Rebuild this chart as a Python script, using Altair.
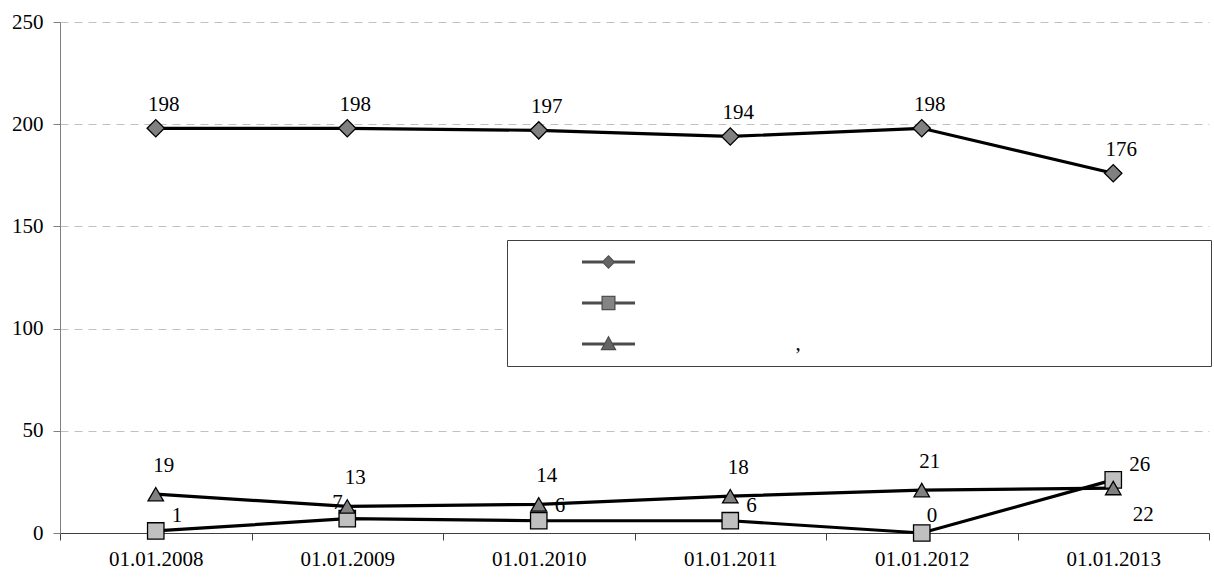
import altair as alt
import pandas as pd

# Categories and series values
dates = ["01.01.2008", "01.01.2009", "01.01.2010", "01.01.2011", "01.01.2012", "01.01.2013"]
series_names = ["Ряд 1", "Ряд 2", "Ряд 3"]
marker_kinds = ["diamond", "square", "triangle"]
series_1 = [198, 198, 197, 194, 198, 176]
series_2 = [1, 7, 6, 6, 0, 26]
series_3 = [19, 13, 14, 18, 21, 22]
y_ticks = [0, 50, 100, 150, 200, 250]
legend_labels = ["\u00a0", "\u00a0", ","]

rows = []
for name, kind, vals in zip(series_names, marker_kinds, [series_1, series_2, series_3]):
    for d, v in zip(dates, vals):
        rows.append({"date": d, "series": name, "kind": kind, "value": v})
df = pd.DataFrame(rows)

FONT = "Liberation Serif, Times New Roman, DejaVu Serif, serif"
FS = 21

fills = ["#808080", "#c0c0c0", "#808080"]

# Legend symbols in unit coordinates (1 unit = 6px at symbolSize 144).
# Dark silhouettes: line segment plus the marker outline.
legend_outlines = [
    "M-4.42,-0.25L-0.9,-0.25L0,-1.15L0.9,-0.25L4.42,-0.25L4.42,0.25L0.9,0.25L0,1.15L-0.9,0.25L-4.42,0.25Z",
    "M-4.42,-0.25L-1.17,-0.25L-1.17,-1.22L1.17,-1.22L1.17,-0.25L4.42,-0.25L4.42,0.25L1.17,0.25"
    "L1.17,1.22L-1.17,1.22L-1.17,0.25L-4.42,0.25Z",
    "M-4.42,-0.25L-0.634,-0.25L0,-1.4L0.634,-0.25L4.42,-0.25L4.42,0.25L0.909,0.25L1.35,1.05"
    "L-1.35,1.05L-0.909,0.25L-4.42,0.25Z",
]
# Grey marker bodies drawn on top of the silhouettes.
legend_bodies = [
    "M0,-0.9L0.9,0L0,0.9L-0.9,0Z",
    "M-0.97,-1.02L0.97,-1.02L0.97,1.02L-0.97,1.02Z",
    "M0,-1.05L1,0.85L-1,0.85Z",
]


def label_expr(keys):
    return (
        f"datum.label == '{keys[0]}' ? '{legend_labels[0]}' : "
        f"datum.label == '{keys[1]}' ? '{legend_labels[1]}' : '{legend_labels[2]}'"
    )


x_enc = alt.X(
    "date:N",
    sort=dates,
    scale=alt.Scale(type="band", paddingInner=0, paddingOuter=0),
    axis=alt.Axis(
        title=None,
        labelAngle=0,
        tickBand="extent",
        tickSize=7,
        tickColor="#404040",
        domainColor="#404040",
        labelFont=FONT,
        labelFontSize=FS,
        labelColor="black",
        labelPadding=8,
        grid=False,
    ),
)
y_enc = alt.Y(
    "value:Q",
    scale=alt.Scale(domain=[0, 250], nice=False),
    axis=alt.Axis(
        title=None,
        values=y_ticks,
        tickSize=7,
        tickColor="#808080",
        domainColor="#808080",
        labelFont=FONT,
        labelFontSize=FS,
        labelColor="black",
        labelPadding=10,
        grid=True,
        gridColor="#c0c0c0",
        gridDash=[8, 6],
        gridWidth=1,
    ),
)

base = alt.Chart(df)

lines = base.mark_line(color="black", strokeWidth=3.2).encode(
    x=x_enc, y=y_enc, detail="series:N"
)

markers = base.mark_point(filled=True, stroke="black", strokeWidth=1.3, opacity=1).encode(
    x=x_enc,
    y=y_enc,
    shape=alt.Shape(
        "series:N",
        scale=alt.Scale(domain=series_names, range=["diamond", "square", "triangle-up"]),
        legend=None,
    ),
    size=alt.Size("series:N", scale=alt.Scale(domain=series_names, range=[300, 240, 340]), legend=None),
    fill=alt.Fill("series:N", scale=alt.Scale(domain=series_names, range=fills), legend=None),
)

common_legend = dict(
    orient="none",
    legendX=447,
    legendY=218,
    padding=11.5,
    symbolOffset=79.5,
    symbolSize=144,
    symbolStrokeWidth=0,
    labelOffset=176.5,
    labelFont=FONT,
    labelFontSize=FS,
    labelColor="black",
    rowPadding=19,
)

# Framed legend with the dark line-and-outline symbols
legend_frame = base.mark_point(filled=True, color="black", strokeWidth=0).encode(
    x=x_enc,
    y=y_enc,
    shape=alt.Shape(
        "series:N",
        scale=alt.Scale(domain=series_names, range=legend_outlines),
        legend=alt.Legend(
            **common_legend,
            title="\u00a0",
            titleOrient="right",
            titlePadding=399,
            titleFontSize=FS,
            titleFont=FONT,
            strokeColor="#404040",
            fillColor="white",
            symbolFillColor="black",
            labelExpr=label_expr(series_names),
        ),
    ),
).transform_filter(alt.datum.value < 0)

# Second legend at the same spot adding the grey marker bodies
body_legend = dict(**common_legend, title=None, labelOpacity=0, labelExpr=label_expr(marker_kinds))
legend_fill = base.mark_point(filled=True, strokeWidth=0).encode(
    x=x_enc,
    y=y_enc,
    shape=alt.Shape(
        "kind:N",
        scale=alt.Scale(domain=marker_kinds, range=legend_bodies),
        legend=alt.Legend(**body_legend),
    ),
    fill=alt.Fill(
        "kind:N",
        scale=alt.Scale(domain=marker_kinds, range=fills),
        legend=alt.Legend(**body_legend),
    ),
).transform_filter(alt.datum.value < 0)


def value_labels(cond, **offsets):
    return base.mark_text(font=FONT, fontSize=FS, color="black", baseline="middle", **offsets).encode(
        x=x_enc, y=y_enc, text="value:Q"
    ).transform_filter(cond)


s1, s2, s3 = series_names
d = alt.datum

labels_1 = value_labels(d.series == s1, dx=8, dy=-23)
labels_3a = value_labels((d.series == s3) & (d.date != dates[-1]), dx=8, dy=-28)
labels_3b = value_labels((d.series == s3) & (d.date == dates[-1]), dx=30, dy=27)
labels_2a = value_labels(
    (d.series == s2) & (d.date != dates[1]) & (d.date != dates[4]), align="left", dx=16, dy=-15
)
labels_2b = value_labels((d.series == s2) & (d.date == dates[1]), align="left", dx=-15, dy=-16)
labels_2c = value_labels((d.series == s2) & (d.date == dates[4]), align="left", dx=5, dy=-17)

chart = (
    alt.layer(
        lines, markers, legend_frame, legend_fill,
        labels_1, labels_3a, labels_3b, labels_2a, labels_2b, labels_2c,
    )
    .resolve_scale(shape="independent", size="independent", fill="independent")
    .properties(
        width=1149,
        height=511,
        autosize=alt.AutoSizeParams(type="none"),
        padding={"left": 60, "top": 22, "right": 5, "bottom": 51},
        background="white",
    )
    .configure_view(stroke=None)
)

chart.save("out.html", embed_options={"renderer": "svg", "actions": False})
